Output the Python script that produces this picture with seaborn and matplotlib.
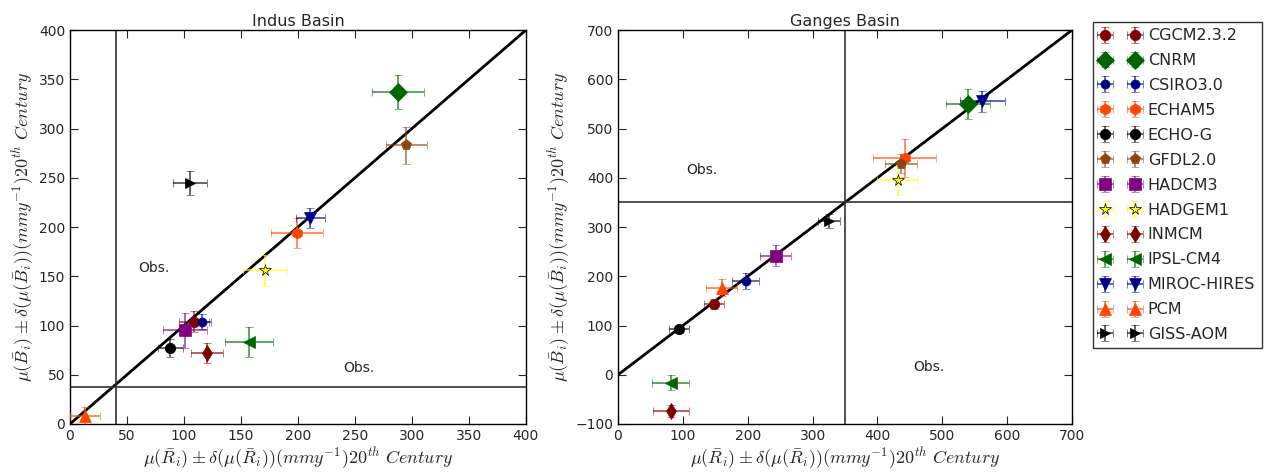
import numpy as np
import pandas as pd
import seaborn as sns
import matplotlib
matplotlib.use("Agg")
import matplotlib.pyplot as plt

# modelos
modelos = ["CGCM2.3.2", "CNRM", "CSIRO3.0", "ECHAM5", "ECHO-G", "GFDL2.0", "HADCM3",
           "HADGEM1", "INMCM", "IPSL-CM4", "MIROC-HIRES", "PCM", "GISS-AOM"]

# Indus: media y desviacion (R en x, B en y)
indus_r = [109, 288, 116, 199, 88, 295, 101, 171, 120, 157, 211, 13, 105]
indus_r_err = [13, 23, 8, 23, 11, 18, 19, 19, 14, 21, 13, 13, 15]
indus_b = [104, 337, 104, 194, 77, 283, 95, 156, 72, 83, 209, 8, 245]
indus_b_err = [11, 17, 8, 15, 9, 19, 18, 16, 10, 15, 10, 9, 12]

# Ganges
ganges_r = [148, 539, 197, 442, 94, 436, 243, 431, 82, 81, 562, 160, 326]
ganges_r_err = [15, 34, 21, 49, 16, 25, 24, 32, 28, 29, 34, 24, 17]
ganges_b = [144, 550, 191, 440, 92, 429, 242, 395, -73, -16, 555, 177, 312]
ganges_b_err = [10, 31, 16, 38, 8, 20, 21, 29, 12, 15, 21, 17, 14]

# observaciones
obs_indus = (40, 38)
obs_ganges = (350, 350)

# estilos por modelo
colores = ["#800000", "#006400", "#000080", "#FF4500", "#000000", "#8B4513", "#800080",
           "#FFFF00", "#800000", "#006400", "#00008B", "#FF4500", "#000000"]
marcadores = ["o", "D", "o", "h", "o", "p", "s", "*", "d", "<", "v", "^", ">"]
tamanos = [7.5, 9, 6.5, 8, 7.5, 8, 8.5, 8.5, 8.5, 8, 8, 8, 7]

sns.set_style("ticks")
plt.rcParams["mathtext.fontset"] = "cm"
plt.rcParams["font.family"] = ["DejaVu Sans"]

fig = plt.figure(figsize=(12.7, 4.74), dpi=100)
ax1 = fig.add_axes([0.0551, 0.1055, 0.359, 0.831])
ax2 = fig.add_axes([0.4866, 0.1055, 0.3575, 0.831])

xlab = r"$\mu(\bar{R}_i) \pm\delta(\mu(\bar{R}_i))(mmy^{-1})20^{th}\ Century$"
ylab = r"$\mu(\bar{B}_i) \pm\delta(\mu(\bar{B}_i))(mmy^{-1})20^{th}\ Century$"


def dibujar(ax, xs, xe, ys, ye, lim, obs, titulo, yticks, textos):
    diag = pd.DataFrame({"x": [0, lim], "y": [0, lim]})
    sns.lineplot(data=diag, x="x", y="y", ax=ax, color="black", lw=2, zorder=1)
    ax.axvline(obs[0], color="#333333", lw=1.2, zorder=1)
    ax.axhline(obs[1], color="#333333", lw=1.2, zorder=1)
    for i, m in enumerate(modelos):
        rgb = matplotlib.colors.to_rgb(colores[i])
        ax.errorbar(xs[i], ys[i], xerr=xe[i], yerr=ye[i], fmt=marcadores[i],
                    color=colores[i], ecolor=rgb + (0.7,),
                    mec="black" if m == "HADGEM1" else colores[i],
                    mew=0.5, ms=tamanos[i], capsize=3, elinewidth=1.2, label=m, zorder=3)
    for (tx, ty) in textos:
        ax.text(tx, ty, "Obs.", fontsize=10)
    ax.set_xlim(0, lim)
    ax.set_ylim(yticks[0], yticks[-1])
    ax.set_xticks(np.arange(0, lim + 1, 50 if lim == 400 else 100))
    ax.set_yticks(yticks)
    ax.set_title(titulo, fontsize=11.5, pad=3)
    ax.set_xlabel(xlab, fontsize=13, labelpad=2)
    ax.set_ylabel(ylab, fontsize=13, labelpad=2)
    ax.tick_params(direction="in", top=True, right=True, labelsize=10, length=6, width=0.8)
    for s in ax.spines.values():
        s.set_color("black")
        s.set_linewidth(1)


dibujar(ax1, indus_r, indus_r_err, indus_b, indus_b_err, 400, obs_indus, "Indus Basin",
        np.arange(0, 401, 50), [(60, 154), (240, 53)])
dibujar(ax2, ganges_r, ganges_r_err, ganges_b, ganges_b_err, 700, obs_ganges, "Ganges Basin",
        np.arange(-100, 701, 100), [(106, 408), (456, 8)])

h, l = ax1.get_legend_handles_labels()
fig.legend(h, l, loc="upper left", bbox_to_anchor=(0.861, 0.954), numpoints=2,
           fontsize=11.5, frameon=True, fancybox=False, edgecolor="black",
           borderaxespad=0, labelspacing=0.62, handlelength=2.5, handletextpad=0.5)

fig.savefig("out.png", dpi=100)
